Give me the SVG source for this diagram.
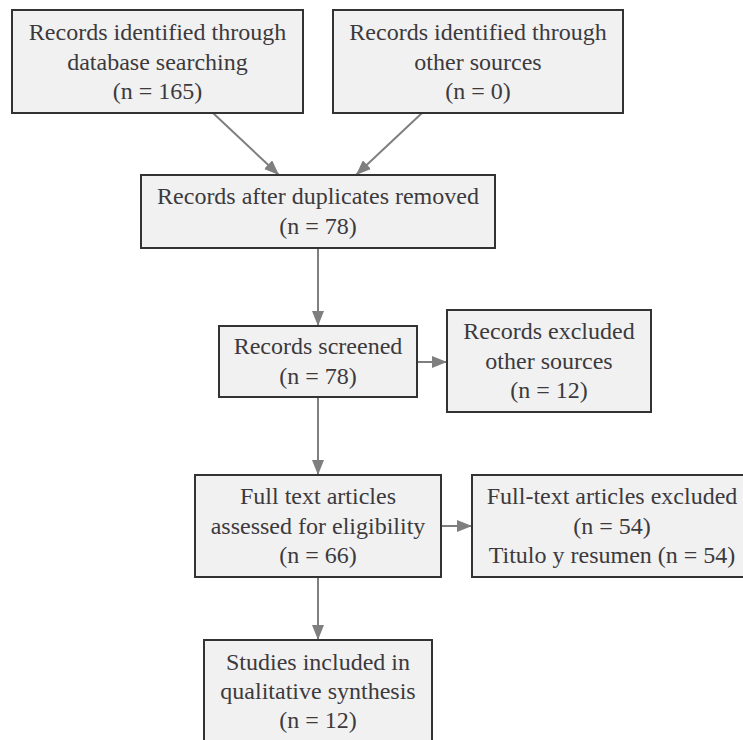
<svg xmlns="http://www.w3.org/2000/svg" width="743" height="740" viewBox="0 0 743 740">
<style>
.box{fill:#f2f1f2;stroke:#333;stroke-width:2}
text{font-family:"Liberation Serif","Times New Roman",serif;font-size:24px;fill:#3c3a3c;text-anchor:middle}
.edge{stroke:#7f7f7f;stroke-width:2;fill:none}
</style>
<defs>
<marker id="ah" markerUnits="userSpaceOnUse" markerWidth="16" markerHeight="12" refX="15" refY="6" orient="auto">
<path d="M0,0 L15,6 L0,12 Z" fill="#7f7f7f"/>
</marker>
</defs>
<rect width="743" height="740" fill="#fff"/>
<g id="connectors">
<line class="edge" x1="213" y1="113" x2="279" y2="175" marker-end="url(#ah)"/>
<line class="edge" x1="422" y1="113" x2="356" y2="175" marker-end="url(#ah)"/>
<line class="edge" x1="318" y1="248" x2="318" y2="326" marker-end="url(#ah)"/>
<line class="edge" x1="417" y1="362" x2="447" y2="362" marker-end="url(#ah)"/>
<line class="edge" x1="318" y1="397" x2="318" y2="475" marker-end="url(#ah)"/>
<line class="edge" x1="441" y1="526" x2="472" y2="526" marker-end="url(#ah)"/>
<line class="edge" x1="318" y1="577" x2="318" y2="640" marker-end="url(#ah)"/>
</g>
<g id="db">
<rect class="box" x="12" y="10" width="291" height="103"/>
<text x="157.5" y="40">Records identified through</text>
<text x="157.5" y="69.5">database searching</text>
<text x="157.5" y="99">(n = 165)</text>
</g>
<g id="other">
<rect class="box" x="333" y="10" width="290" height="103"/>
<text x="478" y="40">Records identified through</text>
<text x="478" y="69.5">other sources</text>
<text x="478" y="99">(n = 0)</text>
</g>
<g id="dup">
<rect class="box" x="141" y="175" width="354" height="73"/>
<text x="318" y="204">Records after duplicates removed</text>
<text x="318" y="233.5">(n = 78)</text>
</g>
<g id="screened">
<rect class="box" x="219" y="326" width="198" height="71"/>
<text x="318" y="354">Records screened</text>
<text x="318" y="383.5">(n = 78)</text>
</g>
<g id="excluded">
<rect class="box" x="447" y="310" width="204" height="102"/>
<text x="549" y="339">Records excluded</text>
<text x="549" y="368.5">other sources</text>
<text x="549" y="398">(n = 12)</text>
</g>
<g id="fulltext">
<rect class="box" x="195" y="475" width="246" height="102"/>
<text x="318" y="504">Full text articles</text>
<text x="318" y="533.5">assessed for eligibility</text>
<text x="318" y="563">(n = 66)</text>
</g>
<g id="ftexcluded">
<rect class="box" x="472" y="475" width="280" height="102"/>
<text x="612" y="504">Full-text articles excluded</text>
<text x="612" y="533.5">(n = 54)</text>
<text x="612" y="563">Titulo y resumen (n = 54)</text>
</g>
<g id="included">
<rect class="box" x="204" y="640" width="228" height="110"/>
<text x="318" y="670">Studies included in</text>
<text x="318" y="699">qualitative synthesis</text>
<text x="318" y="728">(n = 12)</text>
</g>
</svg>
